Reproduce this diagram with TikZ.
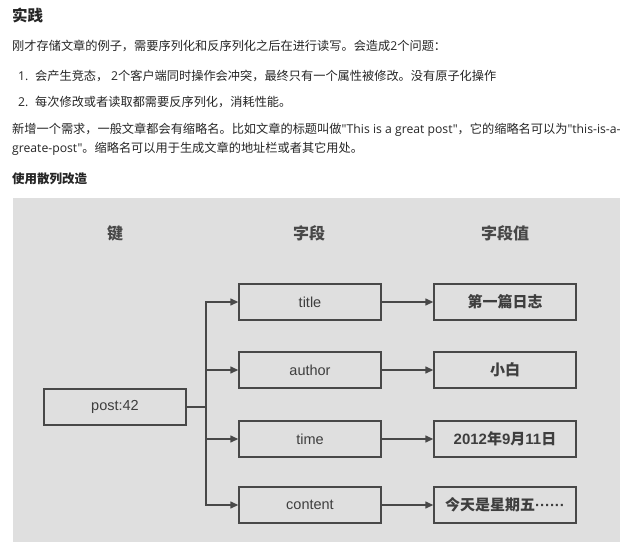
\documentclass[tikz,border=0pt]{standalone}
\usepackage{fontspec}
\setmainfont{Noto Sans CJK SC}
\newfontfamily\latin[Ligatures=TeXOff]{Open Sans}
\newfontfamily\arialf{Liberation Sans}
\usetikzlibrary{arrows.meta}
\definecolor{bgray}{RGB}{223,223,223}
\definecolor{ink}{RGB}{72,72,72}
\definecolor{boxtxt}{RGB}{62,62,62}
\definecolor{txt}{RGB}{38,38,38}
\tikzset{
  fieldbox/.style={draw=ink, line width=1.4pt, minimum width=142pt, minimum height=36pt,
    inner sep=0pt, text=boxtxt, font=\arialf\fontsize{14.5}{16}\selectfont},
  valbox/.style={fieldbox, font=\bfseries\fontsize{15}{17}\selectfont},
  hdr/.style={inner sep=0pt, text=ink, font=\bfseries\fontsize{16}{18}\selectfont},
  link/.style={draw=ink, line width=1.4pt, -{Triangle[length=8pt,width=7pt]}},
  plain/.style={draw=ink, line width=1.4pt},
  para/.style={anchor=west, inner sep=0pt, text=txt, font=\fontsize{12.2}{14}\selectfont},
  head/.style={para, font=\bfseries\fontsize{15.5}{17}\selectfont},
  subhead/.style={para, font=\bfseries\fontsize{12.5}{14}\selectfont}
}
\begin{document}
\begin{tikzpicture}[x=1pt,y=-1pt]
\useasboundingbox (0,0) rectangle (630,546);
\fill[white] (0,0) rectangle (630,546);
% text above
\node[head] (t0) at (12,15) {实践};
\node[para] (t1) at (12,46) {刚才存储文章的例子，需要序列化和反序列化之后在进行读写。会造成{\latin 2}个问题：};
\node[para] (n1) at (18,76) {{\latin 1.}};
\node[para] (i1) at (35,76) {会产生竞态， {\latin 2}个客户端同时操作会冲突，最终只有一个属性被修改。没有原子化操作};
\node[para] (n2) at (18,102) {{\latin 2.}};
\node[para] (i2) at (35,102) {每次修改或者读取都需要反序列化，消耗性能。};
\node[para] (p1) at (12,130) {新增一个需求，一般文章都会有缩略名。比如文章的标题叫做{\latin "This is a great post"}，它的缩略名可以为{\latin "this-is-a-}};
\node[para] (p2) at (12,149) {{\latin greate-post"}。缩略名可以用于生成文章的地址栏或者其它用处。};
\node[subhead] (h) at (12,179) {使用散列改造};
% diagram
\fill[bgray] (13,198) rectangle (620,542);
\node[hdr] (h1) at (115,233) {键};
\node[hdr] (h2) at (309,233) {字段};
\node[hdr] (h3) at (505,233) {字段值};
\node[fieldbox] (post) at (115,407) {post:42};
\node[fieldbox] (title) at (310,302) {title};
\node[fieldbox] (author) at (310,370) {author};
\node[fieldbox] (time) at (310,439) {time};
\node[fieldbox] (content) at (310,505) {content};
\node[valbox] (v1) at (505,302) {第一篇日志};
\node[valbox] (v2) at (505,370) {小白};
\node[valbox] (v3) at (505,439) {{\arialf\bfseries 2012}年{\arialf\bfseries 9}月{\arialf\bfseries 11}日};
\node[valbox] (v4) at (505,505) {今天是星期五{\arialf ······}};
\coordinate (j) at (206,407);
\draw[plain] (post.east) -- (j);
\draw[link] (j) |- (title.west);
\draw[link] (j) |- (author.west);
\draw[link] (j) |- (time.west);
\draw[link] (j) |- (content.west);
\draw[link] (title.east) -- (v1.west);
\draw[link] (author.east) -- (v2.west);
\draw[link] (time.east) -- (v3.west);
\draw[link] (content.east) -- (v4.west);
\end{tikzpicture}
\end{document}
